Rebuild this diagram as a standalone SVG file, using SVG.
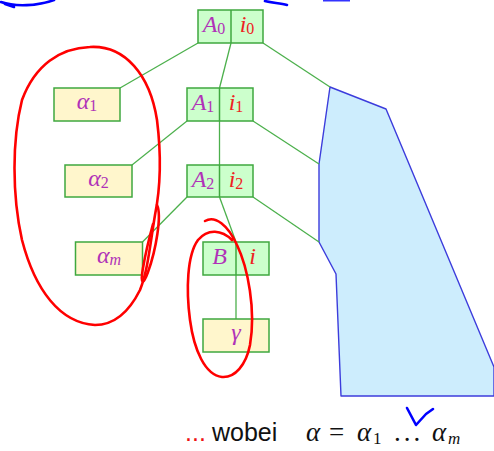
<svg xmlns="http://www.w3.org/2000/svg" width="494" height="451" viewBox="0 0 494 451">
  <style>
    .nt { fill: #ccffcc; stroke: #3fa83f; stroke-width: 1.5; }
    .ny { fill: #fff6cc; stroke: #3fa83f; stroke-width: 1.5; }
    .div { stroke: #3fa83f; stroke-width: 1.5; }
    .edge { stroke: #4cb04c; stroke-width: 1.3; fill: none; }
    .sym { font-family: "Liberation Serif", "DejaVu Serif", serif; font-style: italic; font-size: 24px; fill: #b032b8; text-anchor: middle; }
    .idx { font-family: "Liberation Serif", "DejaVu Serif", serif; font-style: italic; font-size: 24px; fill: #ee2222; text-anchor: middle; }
    .sub { font-style: normal; font-size: 16px; }
    .subi { font-size: 16px; }
    .ink-red { fill: none; stroke: #ff0000; stroke-width: 2.6; stroke-linecap: round; stroke-linejoin: round; }
    .ink-blue { fill: none; stroke: #0000ff; stroke-width: 2.6; stroke-linecap: round; stroke-linejoin: round; }
    .math { font-family: "Liberation Serif", "DejaVu Serif", serif; font-size: 27px; fill: #111111; }
    .mi { font-style: italic; }
    .ms { font-size: 17px; }
  </style>

  <!-- shaded region on the right -->
  <polygon id="region" points="330,87 386,109 494,367 494,396 341,396 336,274 319,242 319,164"
           fill="#cdedfd" stroke="#3c3cdc" stroke-width="1.4" stroke-linejoin="round"/>

  <!-- connectors -->
  <g id="connectors">
    <line class="edge" x1="198" y1="43" x2="120" y2="88"/>
    <line class="edge" x1="231" y1="43" x2="219.5" y2="88"/>
    <line class="edge" x1="263" y1="43" x2="330" y2="87"/>
    <line class="edge" x1="187" y1="121" x2="132" y2="165"/>
    <line class="edge" x1="219.5" y1="121" x2="219.5" y2="165"/>
    <line class="edge" x1="253" y1="121" x2="319" y2="164"/>
    <line class="edge" x1="187" y1="197" x2="142.5" y2="242"/>
    <line class="edge" x1="219.5" y1="197" x2="236" y2="242"/>
    <line class="edge" x1="253" y1="197" x2="319" y2="242"/>
    <line class="edge" x1="236" y1="275" x2="236" y2="319"/>
  </g>

  <!-- tree nodes -->
  <g id="node-A0">
    <rect class="nt" x="198" y="10" width="65" height="33"/>
    <line class="div" x1="231" y1="10" x2="231" y2="43"/>
    <text class="sym" x="214" y="32">A<tspan class="sub" dy="2">0</tspan></text>
    <text class="idx" x="247" y="32">i<tspan class="sub" dy="2">0</tspan></text>
  </g>
  <g id="node-A1">
    <rect class="nt" x="187" y="88" width="66" height="33"/>
    <line class="div" x1="219.5" y1="88" x2="219.5" y2="121"/>
    <text class="sym" x="203" y="110">A<tspan class="sub" dy="2">1</tspan></text>
    <text class="idx" x="236" y="110">i<tspan class="sub" dy="2">1</tspan></text>
  </g>
  <g id="node-A2">
    <rect class="nt" x="187" y="165" width="66" height="32"/>
    <line class="div" x1="219.5" y1="165" x2="219.5" y2="197"/>
    <text class="sym" x="203" y="187">A<tspan class="sub" dy="2">2</tspan></text>
    <text class="idx" x="236" y="187">i<tspan class="sub" dy="2">2</tspan></text>
  </g>
  <g id="node-B">
    <rect class="nt" x="203" y="242" width="66" height="33"/>
    <line class="div" x1="236" y1="242" x2="236" y2="275"/>
    <text class="sym" x="219.5" y="264">B</text>
    <text class="idx" x="252.5" y="264">i</text>
  </g>
  <g id="node-alpha1">
    <rect class="ny" x="54" y="88" width="66" height="33"/>
    <text class="sym" x="87" y="109">α<tspan class="sub" dy="2">1</tspan></text>
  </g>
  <g id="node-alpha2">
    <rect class="ny" x="65" y="165" width="67" height="32"/>
    <text class="sym" x="98.5" y="186">α<tspan class="sub" dy="2">2</tspan></text>
  </g>
  <g id="node-alpham">
    <rect class="ny" x="75.5" y="242" width="67" height="33"/>
    <text class="sym" x="109" y="263">α<tspan class="subi" dy="2">m</tspan></text>
  </g>
  <g id="node-gamma">
    <rect class="ny" x="203" y="319" width="66" height="33"/>
    <text class="sym" x="236" y="340">γ</text>
  </g>

  <!-- caption -->
  <g id="caption">
    <text x="185" y="441" font-family="Liberation Sans, Arial, sans-serif" font-size="25" fill="#ee1111">...</text>
    <text x="212" y="441" font-family="Liberation Sans, Arial, sans-serif" font-size="25" fill="#111111">wobei</text>
    <text class="math" y="441"><tspan class="mi" x="306">α</tspan><tspan x="329">=</tspan><tspan class="mi" x="357">α</tspan><tspan class="ms" x="373" dy="3">1</tspan><tspan x="394" dy="-3" letter-spacing="3">...</tspan><tspan class="mi" x="432">α</tspan><tspan class="mi ms" x="448" dy="3">m</tspan></text>
  </g>

  <!-- hand-drawn annotations -->
  <g id="annotations">
    <path class="ink-red" d="M 90,47 C 125,45 150,75 157,120 C 162,160 160,190 155,215 C 150,245 148,270 140,290 C 130,310 115,325 95,325 C 60,323 35,290 22,240 C 12,195 12,140 22,100 C 35,65 60,48 90,47"/>
    <path class="ink-red" d="M 157,205 C 162,215 156,250 148,272 C 143,286 140,284 143,268 C 146,250 150,235 153,224"/>
    <path class="ink-red" d="M 205,221 C 215,215 228,225 237,245 C 248,268 256,310 250,345 C 246,365 235,378 222,377 C 205,375 194,350 190,320 C 186,290 187,255 198,240 C 208,228 222,230 232,240"/>
    <path class="ink-blue" d="M 1,2 C 15,7 38,6 54,0"/>
    <path class="ink-blue" d="M 5,4 L 14,7"/>
    <path class="ink-blue" d="M 265,1 C 272,3 280,3 287,5"/>
    <rect x="323" y="0" width="27" height="1.5" fill="#3333ff"/>
    <path class="ink-blue" d="M 407,408 L 416,425 L 426,414 L 433,409"/>
  </g>
</svg>
